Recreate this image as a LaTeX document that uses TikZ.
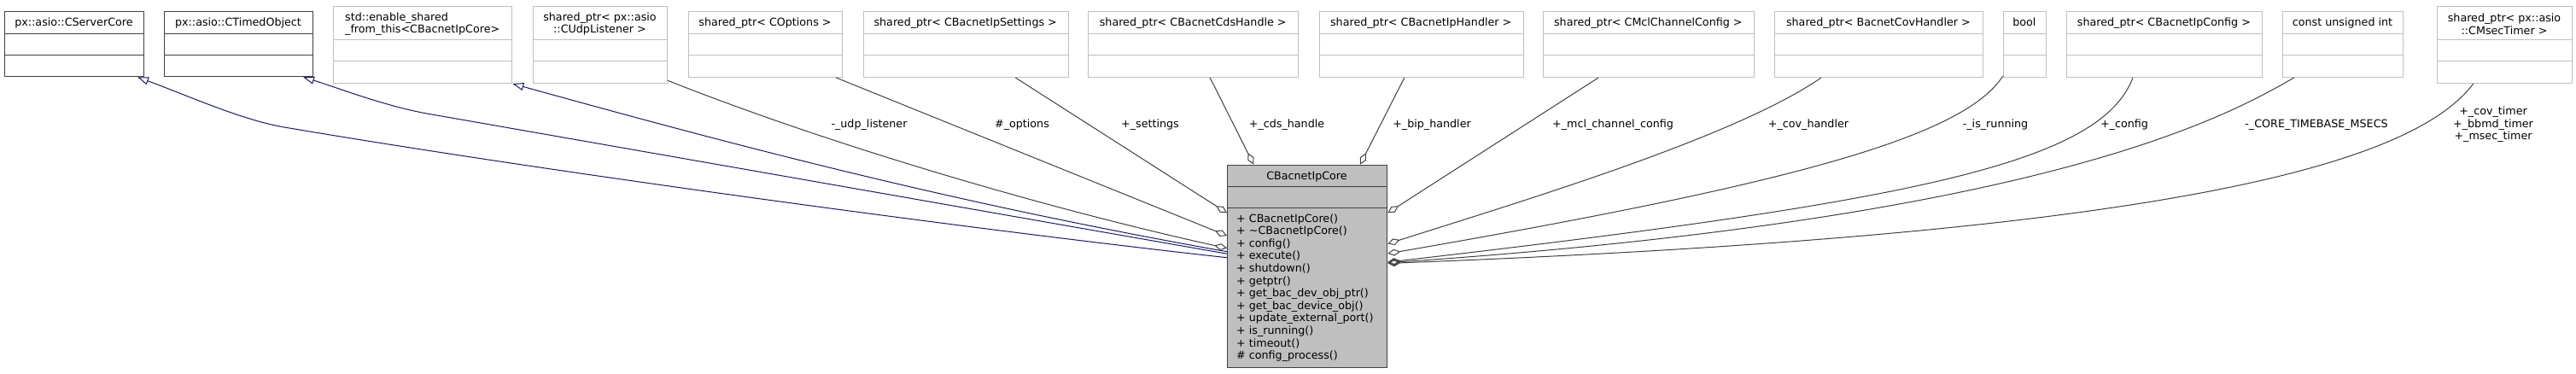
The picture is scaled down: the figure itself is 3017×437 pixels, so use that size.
\documentclass[tikz,border=0pt]{standalone}
\usepackage{fontspec}
\setmainfont{DejaVu Sans}
\usetikzlibrary{arrows.meta}
\definecolor{boxgray}{HTML}{BFBFBF}
\definecolor{edgegray}{HTML}{404040}
\definecolor{inhblue}{HTML}{191970}
\definecolor{darkline}{HTML}{404040}
\newcommand{\dvfont}{\fontsize{12.7pt}{14.6pt}\selectfont}
% #1 name, #2 colour, #3 x1, #4 y1, #5 x2, #6 y2, #7 title row height
\newcommand{\umlbox}[7]{%
  \node[umlrect, draw=#2, minimum width={#5-#3}, minimum height={#6-#4}, anchor=north west] (#1) at (#3,#4) {};
  \draw[draw=#2, line width=1pt] (#3,{#4+#7}) -- (#5,{#4+#7});
  \draw[draw=#2, line width=1pt] (#3,{#4+#7+25}) -- (#5,{#4+#7+25});
}
\begin{document}
\begin{tikzpicture}[x=1pt,y=-1pt,
  umlrect/.style={rectangle, fill=white, line width=1pt, inner sep=0pt},
  lbl/.style={font=\dvfont, inner sep=0pt, text=black},
  usage/.style={draw=edgegray, line width=1pt, -{Diamond[open,length=15pt,width=8pt]}},
  inherit/.style={draw=inhblue, line width=1pt, {Triangle[open,length=13pt,width=9pt]}-}]
\useasboundingbox[fill=white] (0,0) rectangle (3017,437);

% ---- top row of classes
\umlbox{sc}{darkline}{5}{13.3}{168}{89.3}{26}
\umlbox{to}{darkline}{192}{13.3}{366}{89.3}{26}
\umlbox{es}{boxgray}{390}{6.7}{599.3}{97}{40}
\umlbox{udp}{boxgray}{624}{6.7}{781}{97}{40}
\umlbox{opt}{boxgray}{806}{13.3}{986}{90}{26}
\umlbox{set}{boxgray}{1010.7}{13.3}{1250.7}{90}{26}
\umlbox{cds}{boxgray}{1274.3}{13.3}{1520}{90}{26}
\umlbox{bip}{boxgray}{1544.6}{13.3}{1783.8}{90}{26}
\umlbox{mcl}{boxgray}{1807}{13.3}{2053.6}{90}{26}
\umlbox{cov}{boxgray}{2078}{13.3}{2321.7}{90}{26}
\umlbox{bool}{boxgray}{2345.8}{13.3}{2395.8}{90}{26}
\umlbox{cfg}{boxgray}{2420}{13.3}{2648.7}{90}{26}
\umlbox{cui}{boxgray}{2673}{13.3}{2814}{90}{26}
\umlbox{tmr}{boxgray}{2854}{6.7}{3012}{97}{40}

\node[lbl, anchor=base] (sc-t) at (86.5,30.9) {px::asio::CServerCore};
\node[lbl, anchor=base] (to-t) at (279,30.9) {px::asio::CTimedObject};
\node[lbl, anchor=center, align=left] (es-t) at (494.7,28.1) {std::enable\_shared\\\_from\_this<CBacnetIpCore>};
\node[lbl, anchor=center, align=center] (udp-t) at (702.5,28.1) {shared\_ptr< px::asio\\::CUdpListener >};
\node[lbl, anchor=base] (opt-t) at (896,30.9) {shared\_ptr< COptions >};
\node[lbl, anchor=base] (set-t) at (1130.7,30.9) {shared\_ptr< CBacnetIpSettings >};
\node[lbl, anchor=base] (cds-t) at (1397.2,30.9) {shared\_ptr< CBacnetCdsHandle >};
\node[lbl, anchor=base] (bip-t) at (1664.2,30.9) {shared\_ptr< CBacnetIpHandler >};
\node[lbl, anchor=base] (mcl-t) at (1930.3,30.9) {shared\_ptr< CMclChannelConfig >};
\node[lbl, anchor=base] (cov-t) at (2199.9,30.9) {shared\_ptr< BacnetCovHandler >};
\node[lbl, anchor=base] (bool-t) at (2370.8,30.9) {bool};
\node[lbl, anchor=base] (cfg-t) at (2534.4,30.9) {shared\_ptr< CBacnetIpConfig >};
\node[lbl, anchor=base] (cui-t) at (2743.5,30.9) {const unsigned int};
\node[lbl, anchor=center, align=center] (tmr-t) at (2933,28.1) {shared\_ptr< px::asio\\::CMsecTimer >};

% ---- main class
\node[rectangle, draw=darkline, fill=boxgray, line width=1.3pt, inner sep=0pt,
      minimum width=187, minimum height=237.3, anchor=north west] (core) at (1437,192.7) {};
\draw[draw=darkline, line width=1.3pt] (core.north west) ++(0,25.5) -- ++(187,0);
\draw[draw=darkline, line width=1.3pt] (core.north west) ++(0,51) -- ++(187,0);
\node[lbl, anchor=base] (core-t) at (1530.5,210.3) {CBacnetIpCore};
\foreach \t [count=\i from 0] in {%
  + CBacnetIpCore(),
  + \textasciitilde CBacnetIpCore(),
  + config(),
  + execute(),
  + shutdown(),
  + getptr(),
  + get\_bac\_dev\_obj\_ptr(),
  + get\_bac\_device\_obj(),
  + update\_external\_port(),
  + is\_running(),
  + timeout(),
  \# config\_process()}
  \node[lbl, anchor=base west] (m\i) at (1448,{260+14.6*\i}) {\t};

% ---- connector end points
\coordinate (sc-a) at ([xshift=-8pt]sc.south east);
\coordinate (to-a) at ([xshift=-12pt]to.south east);
\coordinate (es-a) at (es.south east);
\coordinate (udp-a) at ([yshift=3.7pt]udp.south east);
\coordinate (opt-a) at ([xshift=-7.7pt]opt.south east);
\coordinate (set-a) at ([xshift=-62.4pt]set.south east);
\coordinate (cds-a) at ([xshift=19.5pt]cds.south);
\coordinate (bip-a) at ([xshift=-19.9pt]bip.south);
\coordinate (mcl-a) at ([xshift=65pt]mcl.south west);
\coordinate (cov-a) at ([xshift=55pt]cov.south west);
\coordinate (run-a) at ([yshift=2pt]bool.south west);
\coordinate (cfg-a) at ([xshift=78pt]cfg.south west);
\coordinate (cui-a) at ([xshift=13.7pt]cui.south west);
\coordinate (tmr-a) at ([xshift=42.7pt]tmr.south west);

\coordinate (set-b) at ([yshift=-56.6pt]core.north west);
\coordinate (opt-b) at ([yshift=-83.3pt]core.north west);
\coordinate (udp-b) at ([yshift=-98pt]core.north west);
\coordinate (es-b) at ([yshift=-102pt]core.north west);
\coordinate (to-b) at ([yshift=-104.5pt]core.north west);
\coordinate (sc-b) at ([yshift=-109pt]core.north west);
\coordinate (cds-b) at ([xshift=31.3pt]core.north west);
\coordinate (bip-b) at ([xshift=-32.3pt]core.north east);
\coordinate (mcl-b) at ([yshift=-56.6pt]core.north east);
\coordinate (cov-b) at ([yshift=-92.8pt]core.north east);
\coordinate (run-b) at ([yshift=-104.3pt]core.north east);
\coordinate (cfg-b) at ([yshift=-114.3pt]core.north east);
\coordinate (cui-b) at ([yshift=-115pt]core.north east);
\coordinate (tmr-b) at ([yshift=-115.7pt]core.north east);

% ---- inheritance
\draw[inherit] (sc-a) .. controls (220,112) and (283,140.5) .. (333,149)
                      .. controls (633,200) and (1137,268.7) .. (sc-b);
\draw[inherit] (to-a) .. controls (394,102.3) and (450,124) .. (500,133)
                      .. controls (800,185.5) and (1200,255.7) .. (to-b);
\draw[inherit] (es-a) .. controls (899,181) and (1137,241.3) .. (es-b);

% ---- usage
\draw[usage] (udp-a) .. controls (981.7,173.3) and (1237,246.7) .. (udp-b);
\draw[usage] (opt-a) -- (opt-b);
\draw[usage] (set-a) -- (set-b);
\draw[usage] (cds-a) -- (cds-b);
\draw[usage] (bip-a) -- (bip-b);
\draw[usage] (mcl-a) -- (mcl-b);
\draw[usage] (cov-a) .. controls (2033,160) and (1790,233.3) .. (cov-b);
\draw[usage] (run-a) .. controls (2300,160) and (2100,215) .. (run-b);
\draw[usage] (cfg-a) .. controls (2460,190) and (2250,235) .. (cfg-b);
\draw[usage] (cui-a) .. controls (2610,135) and (2400,255) .. (cui-b);
\draw[usage] (tmr-a) .. controls (2820,200) and (2500,275) .. (tmr-b);

% ---- edge labels
\node[lbl, anchor=base] (l-udp) at (1018,149.3) {-\_udp\_listener};
\node[lbl, anchor=base] (l-opt) at (1197,149.3) {\#\_options};
\node[lbl, anchor=base] (l-set) at (1347,149.3) {+\_settings};
\node[lbl, anchor=base] (l-cds) at (1507,149.3) {+\_cds\_handle};
\node[lbl, anchor=base] (l-bip) at (1677,149.3) {+\_bip\_handler};
\node[lbl, anchor=base] (l-mcl) at (1889,149.3) {+\_mcl\_channel\_config};
\node[lbl, anchor=base] (l-cov) at (2118,149.3) {+\_cov\_handler};
\node[lbl, anchor=base] (l-run) at (2337,149.3) {-\_is\_running};
\node[lbl, anchor=base] (l-cfg) at (2488,149.3) {+\_config};
\node[lbl, anchor=base] (l-cui) at (2713,149.3) {-\_CORE\_TIMEBASE\_MSECS};
\node[lbl, anchor=center, align=center] (l-tmr) at (2920,146) {+\_cov\_timer\\+\_bbmd\_timer\\+\_msec\_timer};
\end{tikzpicture}
\end{document}
